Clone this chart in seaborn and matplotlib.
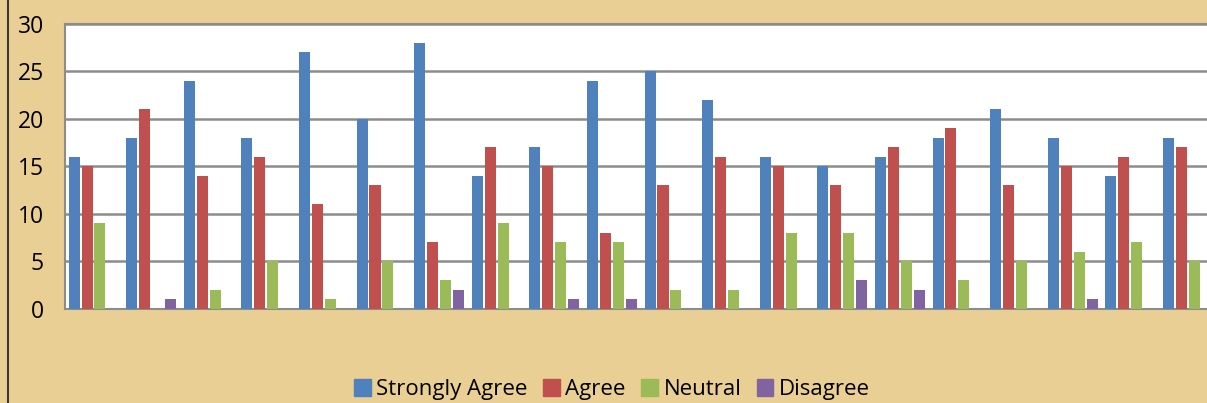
import matplotlib.pyplot as plt
import pandas as pd
import seaborn as sns
from matplotlib.lines import Line2D

# Data (20 survey items)
items = [f"Q{i}" for i in range(1, 21)]
strongly_agree = [16, 18, 24, 18, 27, 20, 28, 14, 17, 24, 25, 22, 16, 15, 16, 18, 21, 18, 14, 18]
agree = [15, 21, 14, 16, 11, 13, 7, 17, 15, 8, 13, 16, 15, 13, 17, 19, 13, 15, 16, 17]
neutral = [9, 0, 2, 5, 1, 5, 3, 9, 7, 7, 2, 2, 8, 8, 5, 3, 5, 6, 7, 5]
disagree = [0, 1, 0, 0, 0, 0, 2, 0, 1, 1, 0, 0, 0, 3, 2, 0, 0, 1, 0, 0]

responses = ["Strongly Agree", "Agree", "Neutral", "Disagree"]
colors = ["#4F81BD", "#C0504D", "#9BBB59", "#8064A2"]
y_ticks = [0, 5, 10, 15, 20, 25, 30]

df = pd.DataFrame({
    "item": items * 4,
    "response": sum([[r] * len(items) for r in responses], []),
    "count": strongly_agree + agree + neutral + disagree,
})

sns.set_style("white")
plt.rcParams["font.family"] = ["Open Sans", "DejaVu Sans"]
plt.rcParams["text.color"] = "black"
plt.rcParams["ytick.color"] = "black"

BG = "#E9CF93"
fig = plt.figure(figsize=(12.07, 4.03), dpi=100, facecolor=BG)
ax = fig.add_axes([0.0536, 0.2333, 0.9544, 0.7072])
ax.set_facecolor("white")

sns.barplot(
    data=df, x="item", y="count", hue="response",
    hue_order=responses, palette=colors, saturation=1,
    width=0.9, gap=0.15, ax=ax, legend=False,
    linewidth=0, zorder=3,
)

ax.set_ylim(0, 30)
ax.set_xlim(-0.5, len(items) - 0.5)
ax.set_yticks(y_ticks)
ax.set_yticklabels([str(t) for t in y_ticks], fontsize=16.5, color="black")
ax.tick_params(axis="y", length=0, pad=15)
ax.tick_params(axis="x", length=0, labelbottom=False)
ax.set_xlabel("")
ax.set_ylabel("")
ax.yaxis.grid(True, color="#8C8C8C", linewidth=1.8, zorder=0)
ax.set_axisbelow(True)
for side in ["top", "bottom", "left"]:
    ax.spines[side].set_color("#8C8C8C")
    ax.spines[side].set_linewidth(1.5)
ax.spines["right"].set_visible(False)

# Outer frame line on the left
fig.add_artist(Line2D([0.0066, 0.0066], [0, 1], transform=fig.transFigure,
                      color="#3A3A3A", linewidth=1.5))

handles = [plt.Rectangle((0, 0), 1, 1, color=c) for c in colors]
fig.legend(handles, responses, loc="center", bbox_to_anchor=(0.507, 0.033),
           ncol=4, frameon=False, fontsize=16, handlelength=0.75,
           handleheight=0.75, handletextpad=0.25, columnspacing=0.7,
           labelcolor="black")

fig.savefig("out.png", dpi=100, facecolor=BG)
